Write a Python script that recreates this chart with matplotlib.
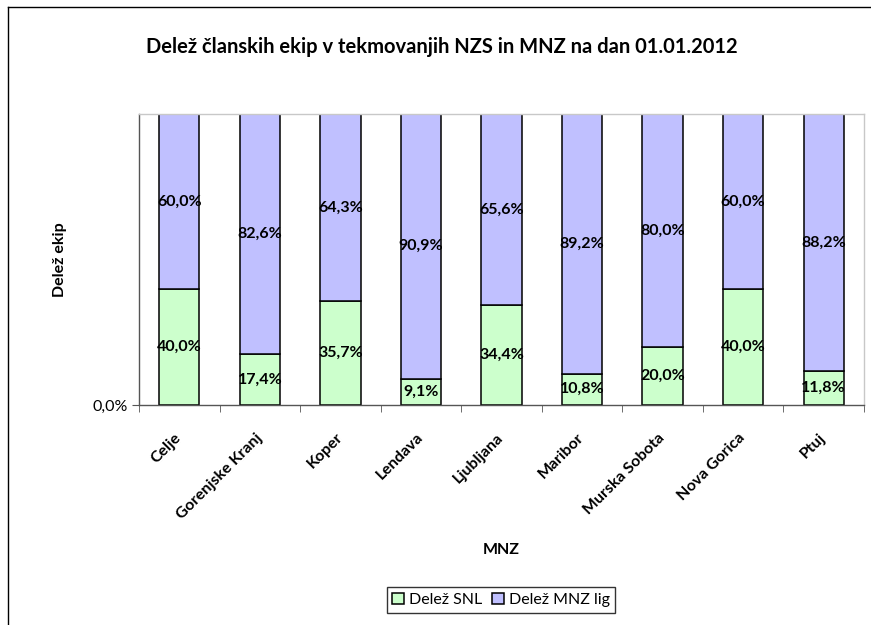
"""Stacked percentage bars: share of senior teams per MNZ."""

import matplotlib.pyplot as plt
from matplotlib.lines import Line2D
import numpy as np

plt.rcParams["font.family"] = ["Lato", "DejaVu Sans"]

categories = ["Celje", "Gorenjske Kranj", "Koper", "Lendava", "Ljubljana",
              "Maribor", "Murska Sobota", "Nova Gorica", "Ptuj"]
snl_share = [40.0, 17.4, 35.7, 9.1, 34.4, 10.8, 20.0, 40.0, 11.8]
mnz_share = [60.0, 82.6, 64.3, 90.9, 65.6, 89.2, 80.0, 60.0, 88.2]
series_labels = ["Delež SNL", "Delež MNZ lig"]
colors = ["#CCFFCC", "#C0C0FF"]


def pct(v):
    return f"{v:.1f}".replace(".", ",") + "%"


fig = plt.figure(figsize=(8.71, 6.25), dpi=100)
W, H = 871, 625
ax = fig.add_axes([139 / W, 1 - 405 / H, 725 / W, 291 / H])

x = np.arange(len(categories))
snl = np.array(snl_share) / 100
mnz = np.array(mnz_share) / 100

b1 = ax.bar(x, snl, width=0.5, color=colors[0], edgecolor="black",
            linewidth=1.1, label=series_labels[0], zorder=2)
b2 = ax.bar(x, mnz, width=0.5, bottom=snl, color=colors[1], edgecolor="black",
            linewidth=1.1, label=series_labels[1], zorder=2)

for i in range(len(categories)):
    ax.text(x[i], snl[i] / 2, pct(snl_share[i]), ha="center", va="center",
            fontsize=11.5, fontweight="bold", zorder=3)
    ax.text(x[i], snl[i] + mnz[i] / 2, pct(mnz_share[i]), ha="center",
            va="center", fontsize=11.5, fontweight="bold", zorder=3)

ax.set_xlim(-0.5, len(categories) - 0.5)
ax.set_ylim(0, 1)

# labels at the category centres, tick marks between categories
ax.set_xticks(x)
ax.set_xticklabels(categories, rotation=45, ha="right", va="center",
                   rotation_mode="anchor", fontsize=11.5, fontweight="bold")
ax.tick_params(axis="x", which="major", length=0, pad=22)
ax.set_xticks(np.arange(len(categories) + 1) - 0.5, minor=True)
ax.tick_params(axis="x", which="minor", length=5, direction="out",
               color="#555555")

ax.set_yticks([0])
ax.set_yticklabels(["0,0%"], fontsize=11.5)
ax.tick_params(axis="y", length=5, direction="out", color="#555555", pad=3)

for side in ["left", "bottom"]:
    ax.spines[side].set_color("#555555")
    ax.spines[side].set_linewidth(1.0)
for side in ["top", "right"]:
    ax.spines[side].set_color("#C8C8C8")
    ax.spines[side].set_linewidth(1.0)

fig.text(442 / W, 1 - 47 / H,
         "Delež članskih ekip v tekmovanjih NZS in MNZ na dan 01.01.2012",
         ha="center", va="center", fontsize=14.5, fontweight="bold")
fig.text(60 / W, 1 - 260 / H, "Delež ekip", rotation=90, ha="center",
         va="center", fontsize=11.5, fontweight="bold")
fig.text(501 / W, 1 - 550 / H, "MNZ", ha="center", va="center",
         fontsize=11.5, fontweight="bold")

leg = fig.legend(handles=[b1, b2], loc="center",
                 bbox_to_anchor=(501 / W, 1 - 600 / H), ncol=2,
                 fancybox=False, edgecolor="black", fontsize=11.5,
                 handlelength=0.75, handleheight=0.75, handletextpad=0.3,
                 columnspacing=0.6, borderpad=0.35, borderaxespad=0)
leg.get_frame().set_linewidth(1.0)

# outer chart frame (left and top edges visible)
fig.add_artist(Line2D([8 / W, 8 / W], [0, 1 - 7 / H], color="black",
                      linewidth=1.0, transform=fig.transFigure))
fig.add_artist(Line2D([8 / W, 1], [1 - 7 / H, 1 - 7 / H], color="black",
                      linewidth=1.0, transform=fig.transFigure))

fig.savefig("out.png", dpi=100)
